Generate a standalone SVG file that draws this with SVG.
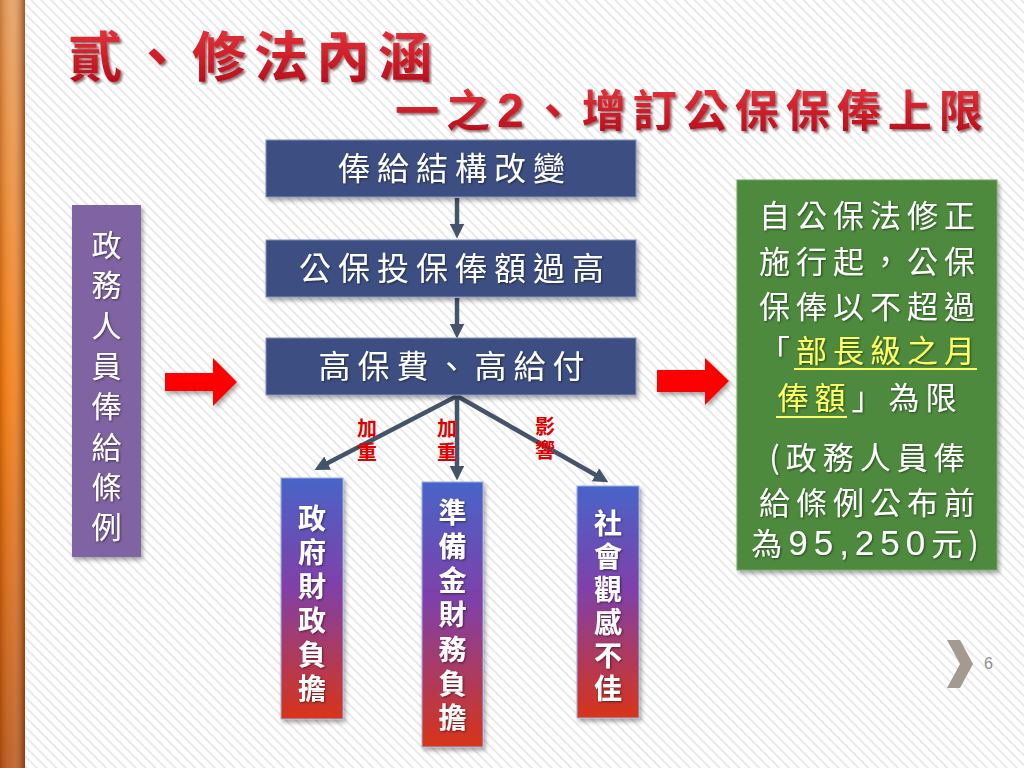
<svg xmlns="http://www.w3.org/2000/svg" width="1024" height="768" viewBox="0 0 1024 768">
<defs>
<style>
.cjk{font-family:"Noto Sans CJK TC","Noto Sans CJK SC",sans-serif}
.wt{fill:#FFFFFF}
.box{fill:#3D5082;stroke:#7F90BA;stroke-width:1}
.conn{stroke:#44546A;stroke-width:4.5;fill:none;marker-end:url(#ah)}
.lbl{font-family:"Noto Sans CJK TC","Noto Sans CJK SC",sans-serif;font-size:20px;font-weight:bold;fill:#E00000;text-anchor:middle;writing-mode:vertical-rl;letter-spacing:4px}
.vt{font-family:"Noto Sans CJK TC","Noto Sans CJK SC",sans-serif;font-size:28px;font-weight:bold;fill:#FFFFFF;text-anchor:middle;writing-mode:vertical-rl}
.gt{font-family:"Noto Sans CJK TC","Noto Sans CJK SC",sans-serif;font-size:31px;fill:#FFFFFF;text-anchor:middle;letter-spacing:6px}
.hl{fill:#FFFF66}
.ul{stroke:#FFFF66;stroke-width:2}
</style>
<pattern id="stripes" patternUnits="userSpaceOnUse" width="7" height="7" patternTransform="rotate(-45)">
<rect width="7" height="7" fill="#FFFFFF"/>
<rect x="0" y="0" width="2" height="7" fill="#E9E9E9"/>
</pattern>
<linearGradient id="orangeV" x1="0" y1="0" x2="0" y2="1">
<stop offset="0" stop-color="#E69A58"/>
<stop offset="0.5" stop-color="#F67806"/>
<stop offset="1" stop-color="#B85010"/>
</linearGradient>
<linearGradient id="orangeH" x1="0" y1="0" x2="1" y2="0">
<stop offset="0" stop-color="#7A3000" stop-opacity="0.3"/>
<stop offset="0.45" stop-color="#FFFFFF" stop-opacity="0.12"/>
<stop offset="1" stop-color="#6A2800" stop-opacity="0.6"/>
</linearGradient>
<linearGradient id="bot" x1="0" y1="0" x2="0" y2="1">
<stop offset="0" stop-color="#4864C8"/>
<stop offset="0.45" stop-color="#8040A8"/>
<stop offset="1" stop-color="#D83418"/>
</linearGradient>
<linearGradient id="titleG" x1="0" y1="0" x2="0" y2="1">
<stop offset="0" stop-color="#F03A40"/>
<stop offset="1" stop-color="#B00818"/>
</linearGradient>
<filter id="sh" x="-20%" y="-20%" width="140%" height="140%">
<feDropShadow dx="2" dy="3" stdDeviation="2" flood-color="#000000" flood-opacity="0.35"/>
</filter>
<filter id="ts" x="-10%" y="-10%" width="120%" height="120%">
<feDropShadow dx="1" dy="1" stdDeviation="0.8" flood-color="#000000" flood-opacity="0.5"/>
</filter>
<filter id="tts" x="-10%" y="-10%" width="130%" height="140%">
<feDropShadow dx="2" dy="2" stdDeviation="1.2" flood-color="#400000" flood-opacity="0.55"/>
</filter>
<marker id="ah" viewBox="0 0 10 10" refX="4.3" refY="5" markerWidth="3.3" markerHeight="3.3" orient="auto" markerUnits="strokeWidth">
<path d="M0,0 L10,5 L0,10 z" fill="#44546A"/>
</marker>
</defs>

<rect x="0" y="0" width="1024" height="768" fill="url(#stripes)"/>
<g id="sidebar">
<rect x="0" y="0" width="25" height="768" fill="url(#orangeV)"/>
<rect x="0" y="0" width="25" height="768" fill="url(#orangeH)"/>
</g>

<g id="title" filter="url(#tts)">
<text class="cjk" x="68" y="77" font-size="54" font-weight="bold" letter-spacing="8" fill="url(#titleG)">貳、修法內涵</text>
<text class="cjk" x="395" y="127" font-size="44" font-weight="bold" letter-spacing="7" fill="url(#titleG)">一之<tspan font-family="Liberation Sans, sans-serif" font-weight="bold" font-size="48">2</tspan>、增訂公保保俸上限</text>
</g>

<g id="connectors">
<path class="conn" d="M457,198 L457,230"/>
<path class="conn" d="M457,298 L457,330"/>
<path class="conn" d="M457,396 L322,466"/>
<path class="conn" d="M457,396 L457,472"/>
<path class="conn" d="M457,396 L601,478"/>
</g>

<g id="edge-labels">
<text class="lbl" x="367" y="442">加重</text>
<text class="lbl" x="447" y="442">加重</text>
<text class="lbl" x="545" y="440">影響</text>
</g>

<g id="node-law">
<rect x="72" y="205" width="69" height="352" fill="#8064A2" filter="url(#sh)"/>
<text class="cjk wt" x="106.5" y="391" font-size="30" text-anchor="middle" letter-spacing="10.3" writing-mode="vertical-rl" filter="url(#ts)">政務人員俸給條例</text>
</g>

<g id="arrow-left">
<polygon points="165,373 213,373 213,358 237,382 213,406 213,391 165,391" fill="#FF0000" filter="url(#sh)"/>
</g>

<g id="node-structure">
<rect class="box" x="266" y="140" width="370" height="57" filter="url(#sh)"/>
<text class="cjk wt" x="455" y="180" font-size="32" text-anchor="middle" letter-spacing="7" filter="url(#ts)">俸給結構改變</text>
</g>
<g id="node-insured">
<rect class="box" x="266" y="240" width="370" height="57" filter="url(#sh)"/>
<text class="cjk wt" x="455" y="280" font-size="32" text-anchor="middle" letter-spacing="7" filter="url(#ts)">公保投保俸額過高</text>
</g>
<g id="node-high">
<rect class="box" x="266" y="338" width="370" height="57" filter="url(#sh)"/>
<text class="cjk wt" x="455" y="378" font-size="32" text-anchor="middle" letter-spacing="7" filter="url(#ts)">高保費、高給付</text>
</g>

<g id="node-gov">
<rect x="281" y="478" width="62" height="241" fill="url(#bot)" stroke="#9FB0E0" stroke-width="1" filter="url(#sh)"/>
<text class="vt" x="312" y="606" letter-spacing="6" filter="url(#ts)">政府財政負擔</text>
</g>
<g id="node-reserve">
<rect x="422" y="482" width="61" height="265" fill="url(#bot)" stroke="#9FB0E0" stroke-width="1" filter="url(#sh)"/>
<text class="vt" x="452.5" y="618" letter-spacing="6.3" filter="url(#ts)">準備金財務負擔</text>
</g>
<g id="node-social">
<rect x="577" y="486" width="62" height="232" fill="url(#bot)" stroke="#9FB0E0" stroke-width="1" filter="url(#sh)"/>
<text class="vt" x="608" y="608" letter-spacing="5" filter="url(#ts)">社會觀感不佳</text>
</g>

<g id="arrow-right">
<polygon points="657,370 705,370 705,358 729,381 705,405 705,392 657,392" fill="#FF0000" filter="url(#sh)"/>
</g>

<g id="node-limit">
<rect x="737" y="180" width="260" height="390" fill="#4E8A3E" stroke="#6FA860" stroke-width="1" filter="url(#sh)"/>
<g filter="url(#ts)">
<text class="gt" x="870" y="227">自公保法修正</text>
<text class="gt" x="870" y="273">施行起，公保</text>
<text class="gt" x="870" y="318">保俸以不超過</text>
<text class="gt" x="870" y="362">「<tspan class="hl">部長級之月</tspan></text>
<text class="gt" x="870" y="409"><tspan class="hl">俸額</tspan>」為限</text>
<text class="gt" x="870" y="469">(政務人員俸</text>
<text class="gt" x="870" y="514">給條例公布前</text>
<text class="gt" x="868" y="555" letter-spacing="1">為<tspan font-family="Liberation Sans, sans-serif" font-size="35">95,250</tspan>元)</text>
</g>
<line class="ul" x1="794" y1="369" x2="977" y2="369"/>
<line class="ul" x1="776" y1="417" x2="847" y2="417"/>
</g>

<g id="page-number">
<polygon points="947,640 960,640 973,664 960,688 947,688 960,664" fill="#A39A92"/>
<text x="984" y="669" font-family="Liberation Sans, sans-serif" font-size="16" fill="#909090">6</text>
</g>
</svg>
